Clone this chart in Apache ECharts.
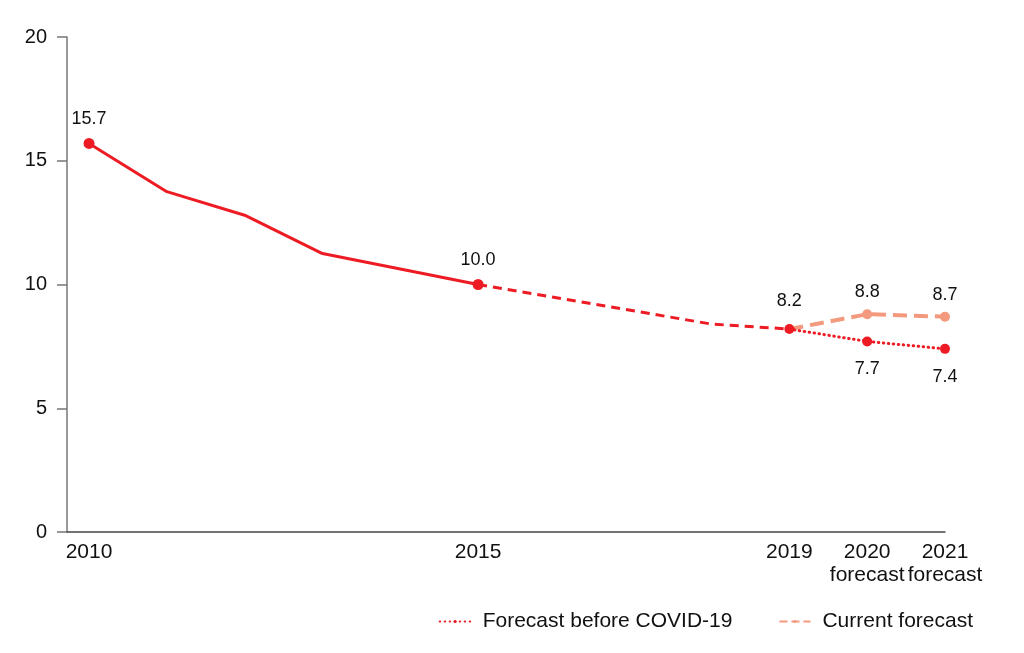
<!DOCTYPE html>
<html><head><meta charset="utf-8">
<script src="https://cdn.jsdelivr.net/npm/echarts@6/dist/echarts.min.js"></script>
<style>html,body{margin:0;padding:0;background:#fff}#c{width:1024px;height:653px}</style>
</head><body><div id="c"></div>
<script>
const years = [2010, 2011, 2012, 2013, 2014, 2015, 2016, 2017, 2018, 2019, 2020, 2021];
const shownYears = [2010, 2015, 2019, 2020, 2021];
const historical = [15.7, 13.75, 12.8, 11.25, null, 10.0, null, null, null, null, null, null];
const estimated  = [null, null, null, null, null, 10.0, null, null, 8.4, 8.2, null, null];
const forecastBefore = [null, null, null, null, null, null, null, null, null, 8.2, 7.7, 7.4];
const currentForecast = [null, null, null, null, null, null, null, null, null, 8.2, 8.8, 8.7];
const yTicks = {min: 0, max: 20, interval: 5};

const RED = '#ED1C24', SALMON = '#F39A7E';
const font = 'Liberation Sans, Arial, sans-serif';

function pairs(arr) {
  return years.map((y, i) => [y, arr[i]]).filter(p => p[1] != null);
}

const chart = echarts.init(document.getElementById('c'), null, {renderer: 'canvas'});
chart.setOption({
  animation: false,
  textStyle: {fontFamily: font},
  grid: {left: 67, right: 79, top: 37, bottom: 121},
  legend: {
    right: 46, top: 606,
    itemWidth: 31, itemHeight: 4, itemGap: 46,
    textStyle: {fontSize: 21, color: '#111', fontFamily: font, padding: [0, 0, 0, 7]},
    data: ['Forecast before COVID-19', 'Current forecast']
  },
  xAxis: {
    type: 'value', min: 2009.717, max: 2021,
    splitLine: {show: false},
    axisLine: {onZero: false, lineStyle: {color: '#444', width: 1.5}},
    axisTick: {show: false},
    axisLabel: {
      customValues: shownYears, margin: 9, fontSize: 21, color: '#111', lineHeight: 23,
      formatter: v => (v === 2020 || v === 2021) ? v + '\nforecast' : String(v)
    }
  },
  yAxis: {
    type: 'value', min: yTicks.min, max: yTicks.max, interval: yTicks.interval,
    splitLine: {show: false},
    axisLine: {show: true, lineStyle: {color: '#777', width: 1.5}},
    axisTick: {show: true, length: 10, lineStyle: {color: '#777', width: 1.5}},
    axisLabel: {fontSize: 20, color: '#111', margin: 20}
  },
  series: [
    {
      name: 'hist', type: 'line', data: pairs(historical),
      lineStyle: {color: RED, width: 3}, itemStyle: {color: RED},
      symbol: 'circle', symbolSize: (v) => (v[0] === 2010 || v[0] === 2015) ? 11 : 0,
      label: {show: true, position: 'top', distance: 10, fontSize: 18, color: '#111',
        formatter: p => (p.value[0] === 2010 || p.value[0] === 2015) ? p.value[1].toFixed(1) : ''},
      z: 3
    },
    {
      name: 'est', type: 'line', data: pairs(estimated),
      lineStyle: {color: RED, width: 3, type: [9, 6]}, itemStyle: {color: RED},
      symbol: 'circle', symbolSize: (v) => v[0] === 2019 ? 10 : 0,
      label: {show: true, position: 'top', distance: 14, fontSize: 18, color: '#111',
        formatter: p => p.value[0] === 2019 ? p.value[1].toFixed(1) : ''},
      z: 4
    },
    {
      name: 'before', type: 'line', data: pairs(forecastBefore),
      lineStyle: {color: RED, width: 3, type: [0.5, 4.5], cap: 'round'}, itemStyle: {color: RED},
      symbol: 'circle', symbolSize: (v) => v[0] === 2019 ? 0 : 10,
      label: {show: true, position: 'bottom', distance: 14, fontSize: 18, color: '#111',
        formatter: p => p.value[0] === 2019 ? '' : p.value[1].toFixed(1)},
      z: 4
    },
    {
      name: 'current', type: 'line', data: pairs(currentForecast),
      lineStyle: {color: SALMON, width: 4, type: [14, 7]}, itemStyle: {color: SALMON},
      symbol: 'circle', symbolSize: (v) => v[0] === 2019 ? 0 : 10,
      label: {show: true, position: 'top', distance: 8, fontSize: 18, color: '#111',
        formatter: p => p.value[0] === 2019 ? '' : p.value[1].toFixed(1)},
      z: 2
    },
    {
      name: 'Forecast before COVID-19', type: 'line', data: [], symbol: 'none',
      lineStyle: {color: RED, width: 3, type: [0.5, 4.5], cap: 'round'}, itemStyle: {color: RED}
    },
    {
      name: 'Current forecast', type: 'line', data: [], symbol: 'none',
      lineStyle: {color: SALMON, width: 4, type: [8, 4]}, itemStyle: {color: SALMON}
    }
  ]
});
</script></body></html>
